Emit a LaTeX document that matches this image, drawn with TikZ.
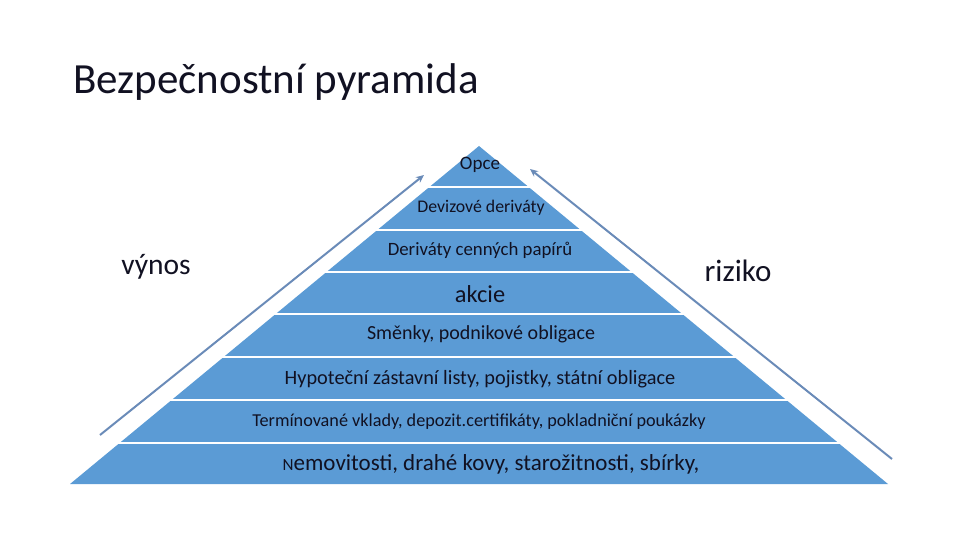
\documentclass[tikz,border=0pt]{standalone}
\usepackage{fontspec}
\setmainfont{Carlito}
\usetikzlibrary{arrows.meta}
\definecolor{pyr}{HTML}{5B9BD5}
\definecolor{arr}{HTML}{6A8BB8}
\definecolor{txt}{HTML}{111122}
\tikzset{
  layer/.style={fill=pyr,draw=none},
  sep/.style={draw=white,line width=2.5pt},
  lbl/.style={text=txt,inner sep=0pt,anchor=center},
  side/.style={draw=arr,line width=2pt,-{Stealth[length=8pt,width=7pt]}}
}
\begin{document}
\begin{tikzpicture}[x=1pt,y=-1pt]
\useasboundingbox (0,0) rectangle (960,540);
% pyramid
\fill[layer] (479,146) -- (888,484) -- (70,484) -- cycle;
\foreach \yy/\hh in {187/49.6,230/101.6,272/152.5,314/203.3,357/255.3,400/307.3,443/359.4}{
  \draw[sep] ({479-\hh-3},\yy) -- ({479+\hh+3},\yy);
}
% title
\node[lbl,anchor=base west,font=\fontsize{43}{47}\selectfont] (title) at (73,94) {Bezpečnostní pyramida};
% layer labels
\node[lbl,font=\fontsize{19}{21}\selectfont] (l1) at (480,165) {Opce};
\node[lbl,font=\fontsize{17.8}{20}\selectfont] (l2) at (481,208) {Devizové deriváty};
\node[lbl,font=\fontsize{18.8}{21}\selectfont] (l3) at (480,250) {Deriváty cenných papírů};
\node[lbl,font=\fontsize{24.4}{27}\selectfont] (l4) at (480,294) {akcie};
\node[lbl,font=\fontsize{20}{23}\selectfont] (l5) at (481,334) {Směnky, podnikové obligace};
\node[lbl,font=\fontsize{20.3}{23}\selectfont] (l6) at (480,379) {Hypoteční zástavní listy, pojistky, státní obligace};
\node[lbl,font=\fontsize{18.2}{21}\selectfont] (l7) at (479,422) {Termínované vklady, depozit.certifikáty, pokladniční poukázky};
\node[lbl,font=\fontsize{23}{26}\selectfont] (l8) at (491,464) {{\fontsize{17}{19}\selectfont N}emovitosti, drahé kovy, starožitnosti, sbírky,};
% side labels
\node[lbl,font=\fontsize{29.5}{33}\selectfont] (vynos) at (156,267) {výnos};
\node[lbl,font=\fontsize{31}{35}\selectfont] (riziko) at (738,271) {riziko};
% arrows
\coordinate (a1s) at (100,435);
\coordinate (a1e) at (424,175);
\coordinate (a2s) at (892,459);
\coordinate (a2e) at (530,169);
\draw[side] (a1s) -- (a1e);
\draw[side] (a2s) -- (a2e);
\end{tikzpicture}
\end{document}
